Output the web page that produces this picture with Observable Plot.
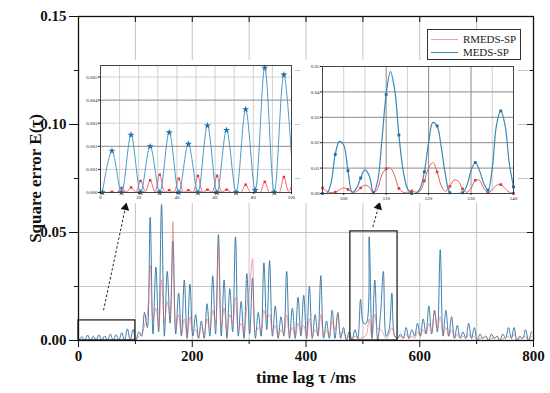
<!DOCTYPE html>
<html><head><meta charset="utf-8">
<script src="https://cdn.jsdelivr.net/npm/d3@7"></script>
<script src="https://cdn.jsdelivr.net/npm/@observablehq/plot@0.6"></script>
<style>
body{margin:0;background:#fff;}
#wrap{position:relative;width:550px;height:393px;font-family:"Liberation Serif","DejaVu Serif",serif;}
#wrap svg{position:absolute;}
#legend{position:absolute;left:427px;top:29px;width:94px;height:31px;border:1px solid #333;background:#fff;box-sizing:border-box;font-size:11px;color:#222;}
#legend .sw{position:absolute;left:3px;width:27px;height:0;}
#legend .tx{position:absolute;left:35px;line-height:12px;white-space:nowrap;letter-spacing:-0.1px;}
</style></head>
<body>
<div id="wrap"></div>
<script>
// time grid (ms) of the main curves: one sample every 5 ms
const tau = d3.range(1, 800, 5);
// MEDS-SP square error
const medsSP = [
  0, 0.0018, 0, 0.0025, 0, 0.0020, 0, 0.0026, 0, 0.0021, 0, 0.0029, 0, 0.0027, 0, 0.0036, 0.0001, 0.0054, 0, 0.0051,
  0.0002, 0.004, 0.002, 0.013, 0.006, 0.057, 0.003, 0.034, 0.004, 0.063, 0.002, 0.032, 0.008, 0.046, 0.003, 0.022, 0.002, 0.028, 0.001, 0.026,
  0.002, 0.012, 0.001, 0.009, 0.001, 0.017, 0.002, 0.030, 0.003, 0.049, 0.002, 0.028, 0.001, 0.024, 0.004, 0.048, 0.002, 0.018, 0.001, 0.031,
  0.003, 0.029, 0.001, 0.013, 0.002, 0.036, 0.005, 0.037, 0.002, 0.016, 0.001, 0.011, 0.002, 0.032, 0.001, 0.015, 0.001, 0.020, 0.002, 0.021,
  0.001, 0.025, 0.001, 0.012, 0.002, 0.030, 0.001, 0.009, 0.001, 0.014, 0.001, 0.013, 0.001, 0.006, 0.000, 0.004, 0.000, 0.005, 0.001, 0.019,
  0.008, 0.008, 0.048, 0.001, 0.028, 0.000, 0.012, 0.032, 0.002, 0.005, 0.022, 0.002, 0.001, 0.003, 0.001, 0.006, 0.001, 0.005, 0.002, 0.008,
  0.002, 0.010, 0.003, 0.016, 0.003, 0.014, 0.004, 0.042, 0.002, 0.014, 0.002, 0.011, 0.001, 0.007, 0.001, 0.004, 0.001, 0.008, 0.001, 0.006,
  0.000, 0.003, 0.001, 0.002, 0.000, 0.003, 0.001, 0.002, 0.000, 0.003, 0.001, 0.006, 0.001, 0.006, 0.000, 0.002, 0.001, 0.005, 0.000, 0.004
];
// RMEDS-SP square error
const rmedsSP = [
  0, 0.00003, 0.0002, 0.00022, 0.0005, 0.00053, 0.00077, 0.0001, 0.0006, 0.0001, 0.00072, 0.00012, 0.00072, 0.00012, 0.00002, 0.00034, 0.00002, 0.00046, 0.00002, 0.00067,
  0.0005, 0.002, 0.003, 0.007, 0.012, 0.035, 0.010, 0.015, 0.006, 0.028, 0.008, 0.018, 0.012, 0.055, 0.006, 0.012, 0.003, 0.010, 0.002, 0.011,
  0.004, 0.005, 0.001, 0.006, 0.003, 0.010, 0.005, 0.014, 0.008, 0.045, 0.006, 0.015, 0.004, 0.012, 0.008, 0.020, 0.005, 0.008, 0.003, 0.016,
  0.025, 0.038, 0.004, 0.006, 0.004, 0.014, 0.010, 0.012, 0.004, 0.007, 0.002, 0.005, 0.003, 0.012, 0.003, 0.006, 0.002, 0.008, 0.004, 0.007,
  0.002, 0.010, 0.002, 0.005, 0.003, 0.012, 0.002, 0.005, 0.002, 0.009, 0.005, 0.012, 0.003, 0.004, 0.001, 0.002, 0.001, 0.002, 0.001, 0.001,
  0.0016, 0.0025, 0.0100, 0.0010, 0.0122, 0.0053, 0.0052, 0.0032, 0.001, 0.003, 0.006, 0.002, 0.001, 0.002, 0.001, 0.003, 0.001, 0.002, 0.001, 0.004,
  0.002, 0.005, 0.003, 0.008, 0.004, 0.014, 0.006, 0.011, 0.003, 0.006, 0.002, 0.005, 0.001, 0.003, 0.001, 0.002, 0.001, 0.003, 0.001, 0.002,
  0.000, 0.001, 0.001, 0.002, 0.000, 0.001, 0.001, 0.002, 0.000, 0.001, 0.001, 0.002, 0.001, 0.003, 0.000, 0.001, 0.001, 0.002, 0.000, 0.002
];
// inset 1 (0-100 ms): RMEDS-SP read at 2.5 ms steps
const inset1Tau = d3.range(1, 101.1, 2.5);
const inset1Rmeds = [
  0, 0, 0.00003, 0, 0.0002, 0.00002, 0.00022, 0.00002, 0.0005, 0.00003, 0.00053, 0.00003, 0.00077, 0.00003, 0.0001, 0.00002,
  0.0006, 0.00002, 0.0001, 0.00002, 0.00072, 0.00002, 0.00012, 0.00002, 0.00072, 0.00002, 0.00012, 0, 0.00002, 0, 0.00034, 0,
  0.00002, 0, 0.00046, 0, 0.00002, 0, 0.00067, 0.00005, 0.0005
];
// inset 2 (495-540 ms), 1 ms steps
const inset2Tau = d3.range(495, 541);
const inset2Meds = [
  0, 0, 0.004, 0.0154, 0.0205, 0.019, 0.009, 0.0005, 0.002, 0.0061, 0.0094, 0.007, 0.0003, 0.005, 0.021, 0.039,
  0.048, 0.041, 0.023, 0.009, 0.002, 0, 0, 0.002, 0.0085, 0.02, 0.028, 0.0266, 0.018, 0.007, 0.0003, 0,
  0, 0.0003, 0.003, 0.009, 0.0122, 0.009, 0.004, 0.0013, 0.01, 0.027, 0.0325, 0.027, 0.012, 0.0026
];
const inset2Rmeds = [
  0.0022, 0.001, 0.0003, 0.0005, 0.0015, 0.0022, 0.0016, 0.0005, 0.0008, 0.0022, 0.0033, 0.0025, 0.0003, 0.002, 0.0075, 0.0097,
  0.0100, 0.007, 0.002, 0.0005, 0.0002, 0.001, 0.0005, 0.001, 0.005, 0.010, 0.0122, 0.0085, 0.003, 0.0008, 0.0028, 0.0053,
  0.0048, 0.0018, 0.0005, 0.002, 0.0052, 0.0052, 0.002, 0.0003, 0.0015, 0.0032, 0.0035, 0.002, 0.0005, 0.0001
];
// zoom boxes and arrows (data coordinates)
const zoomBoxes = [{x1: 0, x2: 100, y1: 0, y2: 0.0093}, {x1: 478, x2: 561, y1: 0, y2: 0.0505}];
const arrows = [{x1: 44, y1: 0.014, x2: 82.5, y2: 0.0616}, {x1: 517.5, y1: 0.0525, x2: 527.5, y2: 0.0620}];
const seriesNames = ["RMEDS-SP", "MEDS-SP"];

const BLUE = "#2a72a2", RED = "#e8676b";
const main = tau.map((t, i) => ({t, meds: medsSP[i], rmeds: rmedsSP[i]}));
const blank = () => "";

const mainPlot = Plot.plot({
  width: 550, height: 393,
  marginLeft: 78, marginRight: 17, marginTop: 16, marginBottom: 53,
  x: {domain: [0, 800], label: null, labelArrow: "none"},
  y: {domain: [0, 0.15], label: null, labelArrow: "none"},
  style: {fontFamily: "'Liberation Serif', serif", background: "white", color: "#111"},
  marks: [
    Plot.gridX({ticks: d3.range(100, 800, 100), stroke: "#c4c4c4", strokeOpacity: 1}),
    Plot.gridY({ticks: [0.025, 0.05, 0.075, 0.1, 0.125], stroke: "#c4c4c4", strokeOpacity: 1}),
    Plot.line(main, {x: "t", y: "meds", curve: "catmull-rom", stroke: BLUE, strokeWidth: 0.9, clip: true}),
    Plot.line(main, {x: "t", y: "rmeds", curve: "catmull-rom", stroke: RED, strokeWidth: 0.8, strokeOpacity: 0.75, clip: true}),
    Plot.rect(zoomBoxes, {x1: "x1", x2: "x2", y1: "y1", y2: "y2", fill: "none", stroke: "#222", strokeWidth: 1.3}),
    Plot.link(arrows, {x1: "x1", y1: "y1", x2: "x2", y2: "y2", stroke: "#222", strokeWidth: 1, strokeDasharray: "2.5,2"}),
    Plot.dot([arrows[0]], {x: "x2", y: "y2", symbol: "triangle", r: 3.2, fill: "#111", rotate: 12}),
    Plot.dot([arrows[1]], {x: "x2", y: "y2", symbol: "triangle", r: 3.2, fill: "#111", rotate: 16}),
    Plot.frame({stroke: "#111", strokeWidth: 1.3}),
    Plot.axisY({ticks: [0, 0.05, 0.1, 0.15], tickFormat: d3.format(".2f"), tickSize: 9, tickPadding: 3, fontSize: 15, fontWeight: "bold", label: null}),
    Plot.axisY({ticks: [0.025, 0.075, 0.125], tickSize: 4, tickFormat: blank, label: null}),
    Plot.axisY({anchor: "right", ticks: [0.05, 0.1], tickSize: -7, tickFormat: blank, label: null}),
    Plot.axisY({anchor: "right", ticks: [0.025, 0.075, 0.125], tickSize: -4, tickFormat: blank, label: null}),
    Plot.axisX({ticks: [0, 200, 400, 600, 800], tickSize: 7, tickPadding: 3, fontSize: 15, fontWeight: "bold", label: null}),
    Plot.axisX({ticks: [100, 300, 500, 700], tickSize: 4, tickFormat: blank, label: null}),
    Plot.axisX({anchor: "top", ticks: d3.range(0, 801, 100), tickSize: -5, tickFormat: blank, label: null}),
    Plot.axisY({ticks: [], label: "Square error E(τ)", labelArrow: "none", labelAnchor: "center", labelOffset: 50, fontSize: 17, fontWeight: "bold"}),
    Plot.axisX({ticks: [], label: "time lag τ /ms", labelArrow: "none", labelAnchor: "center", labelOffset: 42, fontSize: 17, fontWeight: "bold"})
  ]
});

// inset 1
const in1Blue = main.slice(0, 21);
const in1Red = inset1Tau.map((t, i) => ({t, v: inset1Rmeds[i]}));
const inset1 = Plot.plot({
  width: 215, height: 143,
  marginLeft: 20, marginRight: 4, marginTop: 5, marginBottom: 11,
  x: {domain: [0, 100], label: null},
  y: {domain: [0, 0.0055], label: null},
  style: {fontFamily: "'Liberation Serif', serif", background: "white", color: "#222"},
  marks: [
    Plot.gridX({ticks: d3.range(10, 100, 10), stroke: "#cfcfcf", strokeOpacity: 1}),
    Plot.gridY({ticks: [0.001, 0.003, 0.005], stroke: "#cfcfcf", strokeOpacity: 1}),
    Plot.gridY({ticks: [0.002, 0.004], stroke: "#8a8a8a", strokeOpacity: 1}),
    Plot.line(in1Red, {x: "t", y: "v", curve: "catmull-rom", stroke: "#f0585c", strokeWidth: 0.9, clip: true}),
    Plot.line(in1Blue, {x: "t", y: "meds", curve: "catmull-rom", stroke: "#4a9bc9", strokeWidth: 1, clip: true}),
    Plot.dot(main.slice(0, 20), {x: "t", y: "rmeds", symbol: "square", r: 1.4, fill: "#e03a3e"}),
    Plot.dot(main.slice(0, 20), {x: "t", y: "meds", symbol: "star", r: 2.2, fill: "#1f6fa8"}),
    Plot.frame({stroke: "#444"}),
    Plot.axisX({ticks: [0, 20, 40, 60, 80, 100], tickSize: 2, tickPadding: 1, fontSize: 5, label: null}),
    Plot.axisY({ticks: [0, 0.001, 0.002, 0.003, 0.004, 0.005], tickFormat: d3.format(".3f"), tickSize: 2, tickPadding: 1, fontSize: 5, label: null})
  ]
});

// inset 2
const in2 = inset2Tau.map((t, i) => ({t, meds: inset2Meds[i], rmeds: inset2Rmeds[i]}));
const in2Marks = in2.filter((d, i) => i % 3 === 0);
const inset2 = Plot.plot({
  width: 218, height: 143,
  marginLeft: 22, marginRight: 5, marginTop: 6, marginBottom: 10,
  x: {domain: [495, 540], label: null},
  y: {domain: [0, 0.05], label: null},
  style: {fontFamily: "'Liberation Serif', serif", background: "white", color: "#222"},
  marks: [
    Plot.gridX({ticks: [500, 505, 515, 525, 535], stroke: "#d0d0d0", strokeOpacity: 1}),
    Plot.gridX({ticks: [510, 520, 530], stroke: "#8a8a8a", strokeOpacity: 1}),
    Plot.gridY({ticks: [0.01, 0.02, 0.03, 0.04], stroke: "#8a8a8a", strokeOpacity: 1}),
    Plot.line(in2, {x: "t", y: "rmeds", curve: "catmull-rom", stroke: "#f0585c", strokeWidth: 1, clip: true}),
    Plot.line(in2, {x: "t", y: "meds", curve: "catmull-rom", stroke: "#3b88b8", strokeWidth: 1.2, clip: true}),
    Plot.dot(in2Marks, {x: "t", y: "rmeds", symbol: "square", r: 1.5, fill: "#e03a3e"}),
    Plot.dot(in2Marks, {x: "t", y: "meds", symbol: "square", r: 1.6, fill: "#1f6fa8"}),
    Plot.frame({stroke: "#444"}),
    Plot.axisX({ticks: [500, 510, 520, 530, 540], tickSize: 2, tickPadding: 1, fontSize: 5, label: null}),
    Plot.axisY({ticks: [0, 0.01, 0.02, 0.03, 0.04, 0.05], tickFormat: d3.format(".2f"), tickSize: 2, tickPadding: 1, fontSize: 5, label: null})
  ]
});

const wrap = document.getElementById("wrap");
mainPlot.style.left = "0px"; mainPlot.style.top = "0px";
wrap.appendChild(mainPlot);
inset1.style.left = "80px"; inset1.style.top = "60px";
wrap.appendChild(inset1);
inset2.style.left = "300px"; inset2.style.top = "60px";
wrap.appendChild(inset2);

// legend
const lg = document.createElement("div");
lg.id = "legend";
const swColors = ["#f3a0a2", "#3b88b8"];
seriesNames.forEach((name, i) => {
  const sw = document.createElement("div");
  sw.className = "sw";
  sw.style.top = (i === 0 ? 9 : 22) + "px";
  sw.style.borderTop = (i === 0 ? "1px" : "1.5px") + " solid " + swColors[i];
  lg.appendChild(sw);
  const tx = document.createElement("div");
  tx.className = "tx";
  tx.style.top = (i === 0 ? 3 : 16) + "px";
  tx.textContent = name;
  lg.appendChild(tx);
});
wrap.appendChild(lg);
</script>
</body></html>
